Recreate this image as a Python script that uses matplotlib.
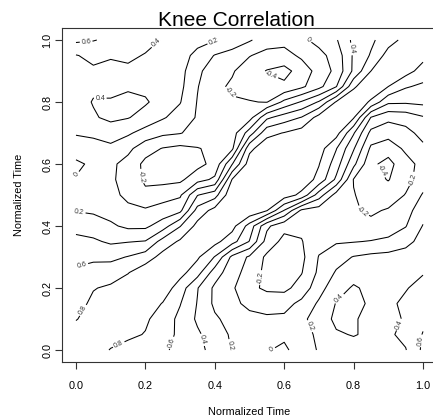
import numpy as np
import matplotlib.pyplot as plt

plt.rcParams['font.family'] = ['Liberation Sans', 'DejaVu Sans']

# normalized time points
time_pts = np.linspace(0, 1, 21)

# knee angle correlation, one row per y time point, values for x time points below it
# (the matrix is symmetric with 1 on the diagonal)
corr_rows = [
    [],
    [0.89],
    [0.79, 0.88],
    [0.73, 0.84, 0.90],
    [0.68, 0.79, 0.83, 0.91],
    [0.63, 0.68, 0.71, 0.79, 0.92],
    [0.55, 0.56, 0.55, 0.61, 0.70, 0.87],
    [0.45, 0.43, 0.37, 0.39, 0.41, 0.68, 0.83],
    [0.34, 0.30, 0.23, 0.16, 0.16, 0.30, 0.59, 0.86],
    [0.19, 0.17, 0.13, 0.05, 0.03, 0.08, 0.15, 0.68, 0.87],
    [0.10, 0.09, 0.06, -0.05, -0.16, -0.08, -0.03, 0.39, 0.52, 0.96],
    [0.01, 0.04, 0.04, -0.10, -0.23, -0.26, -0.24, -0.08, 0.04, 0.81, 0.97],
    [-0.03, 0.03, 0.04, -0.07, -0.25, -0.31, -0.32, -0.26, -0.14, 0.39, 0.90, 0.98],
    [0.08, 0.12, 0.15, 0.05, -0.12, -0.21, -0.25, -0.21, -0.16, -0.04, 0.75, 0.93, 0.97],
    [0.22, 0.24, 0.30, 0.23, 0.12, 0.04, 0.01, -0.07, -0.12, -0.10, 0.30, 0.74, 0.81, 0.89],
    [0.29, 0.38, 0.44, 0.41, 0.33, 0.22, 0.12, -0.02, -0.10, -0.12, -0.08, 0.36, 0.50, 0.61, 0.88],
    [0.33, 0.41, 0.41, 0.44, 0.42, 0.33, 0.21, -0.01, -0.13, -0.18, -0.19, -0.21, 0.05, 0.22, 0.42, 0.82],
    [0.35, 0.37, 0.37, 0.38, 0.36, 0.34, 0.25, 0.01, -0.15, -0.23, -0.28, -0.33, -0.36, -0.24, -0.06, 0.19, 0.76],
    [0.36, 0.37, 0.37, 0.37, 0.36, 0.34, 0.27, 0.04, -0.10, -0.18, -0.31, -0.41, -0.46, -0.32, -0.12, 0.05, 0.44, 0.80],
    [0.39, 0.45, 0.41, 0.43, 0.39, 0.36, 0.30, 0.13, -0.01, -0.08, -0.19, -0.27, -0.28, -0.16, -0.06, 0.08, 0.43, 0.62, 0.88],
    [0.64, 0.61, 0.56, 0.50, 0.45, 0.39, 0.33, 0.28, 0.21, 0.12, 0.02, -0.10, -0.13, -0.04, 0.06, 0.18, 0.45, 0.56, 0.72, 0.86],
]

levels = [-0.4, -0.2, 0.0, 0.2, 0.4, 0.6, 0.8]
tick_vals = [0.0, 0.2, 0.4, 0.6, 0.8, 1.0]
tick_text = ['0.0', '0.2', '0.4', '0.6', '0.8', '1.0']

# full symmetric matrix
n = len(time_pts)
knee_corr = np.eye(n)
for i, row in enumerate(corr_rows):
    for j, v in enumerate(row):
        knee_corr[i, j] = v
        knee_corr[j, i] = v

# where the contour labels sit
label_pos = [(0.03, 0.985), (0.24, 0.98), (0.40, 0.985), (0.65, 0.99), (0.785, 0.97),
             (0.56, 0.88), (0.44, 0.826), (0.07, 0.80), (0.01, 0.56), (0.185, 0.56),
             (0.01, 0.45), (0.017, 0.275), (0.017, 0.13), (0.124, 0.016), (0.285, 0.02),
             (0.355, 0.03), (0.45, 0.016), (0.56, 0.01), (0.52, 0.235), (0.67, 0.075),
             (0.755, 0.17), (0.935, 0.08), (0.99, 0.03), (0.825, 0.445), (0.867, 0.57),
             (0.99, 0.548)]

fig = plt.figure(figsize=(4.33, 4.16), dpi=100)
ax = fig.add_axes([0.1434, 0.1288, 0.8656, 0.8048])

cs = ax.contour(time_pts, time_pts, knee_corr, levels=levels, colors='black',
                linewidths=0.75, linestyles='solid')
lbls = ax.clabel(cs, fmt='%g', fontsize=5, inline=True, inline_spacing=2, manual=label_pos)
for l in lbls:
    l.set_color('#333333')

ax.set_xlim(-0.04, 1.04)
ax.set_ylim(-0.04, 1.04)
ax.set_xticks(tick_vals)
ax.set_xticklabels(tick_text)
ax.set_yticks(tick_vals)
ax.set_yticklabels(tick_text, rotation=90, va='center')
ax.tick_params(direction='out', length=5, width=0.8, labelsize=7.8, color='#333333')
ax.tick_params(axis='x', pad=8.4)
ax.tick_params(axis='y', pad=2)
for s in ax.spines.values():
    s.set_linewidth(0.8)
    s.set_color('#333333')

fig.text(236/433, 1 - 25.5/416, 'Knee Correlation', ha='center', va='baseline', fontsize=15)
fig.text(249.5/433, 1 - 415/416, 'Normalized Time', ha='center', va='baseline', fontsize=7.8)
fig.text(19/433, 1 - 195/416, 'Normalized Time', ha='center', va='center', rotation=90, fontsize=7.8)

fig.savefig('out.png', dpi=100)
